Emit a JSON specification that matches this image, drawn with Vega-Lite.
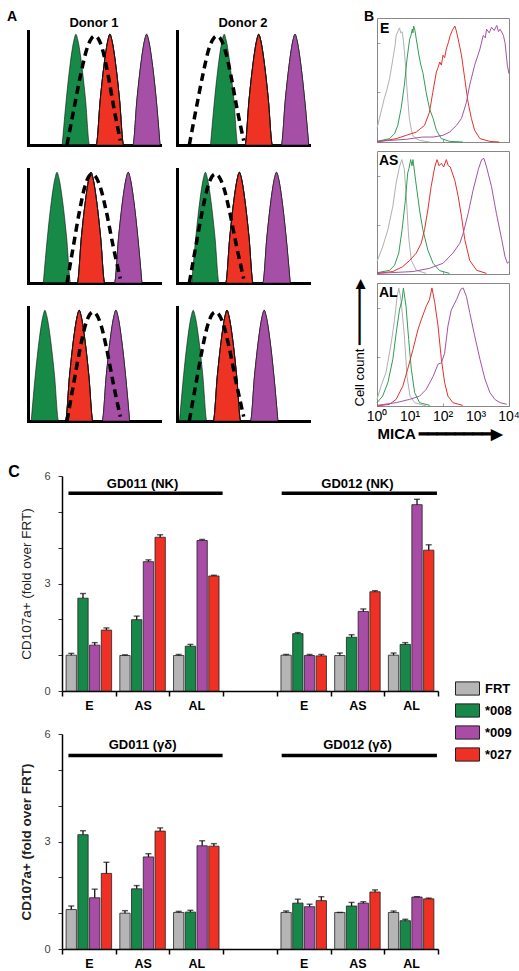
{
"$schema":"https://vega.github.io/schema/vega-lite/v6.json",
"padding":{"left":7,"top":9,"right":0,"bottom":0},
"config":{"font":"Liberation Sans","view":{"stroke":null},"axis":{"grid":false},"title":{"fontWeight":"bold","anchor":"start","frame":"group","color":"black"}},
"datasets":{
"pa":[
{"d":"Donor 1","r":1,"k":"g","x":34.2,"y":0},{"d":"Donor 1","r":1,"k":"g","x":38.3,"y":0.414},{"d":"Donor 1","r":1,"k":"g","x":42.4,"y":0.747},{"d":"Donor 1","r":1,"k":"g","x":45.8,"y":0.942},{"d":"Donor 1","r":1,"k":"g","x":47.9,"y":1},{"d":"Donor 1","r":1,"k":"g","x":50.0,"y":0.942},{"d":"Donor 1","r":1,"k":"g","x":53.4,"y":0.747},{"d":"Donor 1","r":1,"k":"g","x":57.5,"y":0.414},{"d":"Donor 1","r":1,"k":"g","x":61.6,"y":0},
{"d":"Donor 1","r":1,"k":"r","x":68.2,"y":0},{"d":"Donor 1","r":1,"k":"r","x":72.3,"y":0.414},{"d":"Donor 1","r":1,"k":"r","x":76.4,"y":0.747},{"d":"Donor 1","r":1,"k":"r","x":79.8,"y":0.942},{"d":"Donor 1","r":1,"k":"r","x":81.9,"y":1},{"d":"Donor 1","r":1,"k":"r","x":84.0,"y":0.942},{"d":"Donor 1","r":1,"k":"r","x":87.4,"y":0.747},{"d":"Donor 1","r":1,"k":"r","x":91.5,"y":0.414},{"d":"Donor 1","r":1,"k":"r","x":95.6,"y":0},
{"d":"Donor 1","r":1,"k":"p","x":104.9,"y":0},{"d":"Donor 1","r":1,"k":"p","x":109.0,"y":0.414},{"d":"Donor 1","r":1,"k":"p","x":113.1,"y":0.747},{"d":"Donor 1","r":1,"k":"p","x":116.5,"y":0.942},{"d":"Donor 1","r":1,"k":"p","x":118.6,"y":1},{"d":"Donor 1","r":1,"k":"p","x":120.7,"y":0.942},{"d":"Donor 1","r":1,"k":"p","x":124.1,"y":0.747},{"d":"Donor 1","r":1,"k":"p","x":128.2,"y":0.414},{"d":"Donor 1","r":1,"k":"p","x":132.0,"y":0},
{"d":"Donor 1","r":2,"k":"g","x":15.3,"y":0},{"d":"Donor 1","r":2,"k":"g","x":19.4,"y":0.414},{"d":"Donor 1","r":2,"k":"g","x":23.5,"y":0.747},{"d":"Donor 1","r":2,"k":"g","x":26.9,"y":0.942},{"d":"Donor 1","r":2,"k":"g","x":29.0,"y":1},{"d":"Donor 1","r":2,"k":"g","x":31.1,"y":0.942},{"d":"Donor 1","r":2,"k":"g","x":34.5,"y":0.747},{"d":"Donor 1","r":2,"k":"g","x":38.6,"y":0.414},{"d":"Donor 1","r":2,"k":"g","x":42.7,"y":0},
{"d":"Donor 1","r":2,"k":"r","x":49.3,"y":0},{"d":"Donor 1","r":2,"k":"r","x":53.4,"y":0.414},{"d":"Donor 1","r":2,"k":"r","x":57.5,"y":0.747},{"d":"Donor 1","r":2,"k":"r","x":60.9,"y":0.942},{"d":"Donor 1","r":2,"k":"r","x":63.0,"y":1},{"d":"Donor 1","r":2,"k":"r","x":65.1,"y":0.942},{"d":"Donor 1","r":2,"k":"r","x":68.5,"y":0.747},{"d":"Donor 1","r":2,"k":"r","x":72.6,"y":0.414},{"d":"Donor 1","r":2,"k":"r","x":76.7,"y":0},
{"d":"Donor 1","r":2,"k":"p","x":86.5,"y":0},{"d":"Donor 1","r":2,"k":"p","x":90.6,"y":0.414},{"d":"Donor 1","r":2,"k":"p","x":94.7,"y":0.747},{"d":"Donor 1","r":2,"k":"p","x":98.1,"y":0.942},{"d":"Donor 1","r":2,"k":"p","x":100.2,"y":1},{"d":"Donor 1","r":2,"k":"p","x":102.3,"y":0.942},{"d":"Donor 1","r":2,"k":"p","x":105.7,"y":0.747},{"d":"Donor 1","r":2,"k":"p","x":109.8,"y":0.414},{"d":"Donor 1","r":2,"k":"p","x":113.9,"y":0},
{"d":"Donor 1","r":3,"k":"g","x":3.2,"y":0},{"d":"Donor 1","r":3,"k":"g","x":7.3,"y":0.414},{"d":"Donor 1","r":3,"k":"g","x":11.4,"y":0.747},{"d":"Donor 1","r":3,"k":"g","x":14.8,"y":0.942},{"d":"Donor 1","r":3,"k":"g","x":16.9,"y":1},{"d":"Donor 1","r":3,"k":"g","x":19.0,"y":0.942},{"d":"Donor 1","r":3,"k":"g","x":22.4,"y":0.747},{"d":"Donor 1","r":3,"k":"g","x":26.5,"y":0.414},{"d":"Donor 1","r":3,"k":"g","x":30.6,"y":0},
{"d":"Donor 1","r":3,"k":"r","x":37.5,"y":0},{"d":"Donor 1","r":3,"k":"r","x":41.6,"y":0.414},{"d":"Donor 1","r":3,"k":"r","x":45.7,"y":0.747},{"d":"Donor 1","r":3,"k":"r","x":49.1,"y":0.942},{"d":"Donor 1","r":3,"k":"r","x":51.2,"y":1},{"d":"Donor 1","r":3,"k":"r","x":53.3,"y":0.942},{"d":"Donor 1","r":3,"k":"r","x":56.7,"y":0.747},{"d":"Donor 1","r":3,"k":"r","x":60.8,"y":0.414},{"d":"Donor 1","r":3,"k":"r","x":64.9,"y":0},
{"d":"Donor 1","r":3,"k":"p","x":74.2,"y":0},{"d":"Donor 1","r":3,"k":"p","x":78.3,"y":0.414},{"d":"Donor 1","r":3,"k":"p","x":82.4,"y":0.747},{"d":"Donor 1","r":3,"k":"p","x":85.8,"y":0.942},{"d":"Donor 1","r":3,"k":"p","x":87.9,"y":1},{"d":"Donor 1","r":3,"k":"p","x":90.0,"y":0.942},{"d":"Donor 1","r":3,"k":"p","x":93.4,"y":0.747},{"d":"Donor 1","r":3,"k":"p","x":97.5,"y":0.414},{"d":"Donor 1","r":3,"k":"p","x":101.6,"y":0},
{"d":"Donor 2","r":1,"k":"g","x":33.5,"y":0},{"d":"Donor 2","r":1,"k":"g","x":37.6,"y":0.414},{"d":"Donor 2","r":1,"k":"g","x":41.7,"y":0.747},{"d":"Donor 2","r":1,"k":"g","x":45.1,"y":0.942},{"d":"Donor 2","r":1,"k":"g","x":47.2,"y":1},{"d":"Donor 2","r":1,"k":"g","x":49.3,"y":0.942},{"d":"Donor 2","r":1,"k":"g","x":52.7,"y":0.747},{"d":"Donor 2","r":1,"k":"g","x":56.8,"y":0.414},{"d":"Donor 2","r":1,"k":"g","x":60.9,"y":0},
{"d":"Donor 2","r":1,"k":"r","x":68.0,"y":0},{"d":"Donor 2","r":1,"k":"r","x":72.1,"y":0.414},{"d":"Donor 2","r":1,"k":"r","x":76.2,"y":0.747},{"d":"Donor 2","r":1,"k":"r","x":79.6,"y":0.942},{"d":"Donor 2","r":1,"k":"r","x":81.7,"y":1},{"d":"Donor 2","r":1,"k":"r","x":83.8,"y":0.942},{"d":"Donor 2","r":1,"k":"r","x":87.2,"y":0.747},{"d":"Donor 2","r":1,"k":"r","x":91.3,"y":0.414},{"d":"Donor 2","r":1,"k":"r","x":95.4,"y":0},
{"d":"Donor 2","r":1,"k":"p","x":104.3,"y":0},{"d":"Donor 2","r":1,"k":"p","x":108.4,"y":0.414},{"d":"Donor 2","r":1,"k":"p","x":112.5,"y":0.747},{"d":"Donor 2","r":1,"k":"p","x":115.9,"y":0.942},{"d":"Donor 2","r":1,"k":"p","x":118.0,"y":1},{"d":"Donor 2","r":1,"k":"p","x":120.1,"y":0.942},{"d":"Donor 2","r":1,"k":"p","x":123.5,"y":0.747},{"d":"Donor 2","r":1,"k":"p","x":127.6,"y":0.414},{"d":"Donor 2","r":1,"k":"p","x":131.7,"y":0},
{"d":"Donor 2","r":2,"k":"g","x":14.7,"y":0},{"d":"Donor 2","r":2,"k":"g","x":18.8,"y":0.414},{"d":"Donor 2","r":2,"k":"g","x":22.9,"y":0.747},{"d":"Donor 2","r":2,"k":"g","x":26.3,"y":0.942},{"d":"Donor 2","r":2,"k":"g","x":28.4,"y":1},{"d":"Donor 2","r":2,"k":"g","x":30.5,"y":0.942},{"d":"Donor 2","r":2,"k":"g","x":33.9,"y":0.747},{"d":"Donor 2","r":2,"k":"g","x":38.0,"y":0.414},{"d":"Donor 2","r":2,"k":"g","x":42.1,"y":0},
{"d":"Donor 2","r":2,"k":"r","x":48.7,"y":0},{"d":"Donor 2","r":2,"k":"r","x":52.8,"y":0.414},{"d":"Donor 2","r":2,"k":"r","x":56.9,"y":0.747},{"d":"Donor 2","r":2,"k":"r","x":60.3,"y":0.942},{"d":"Donor 2","r":2,"k":"r","x":62.4,"y":1},{"d":"Donor 2","r":2,"k":"r","x":64.5,"y":0.942},{"d":"Donor 2","r":2,"k":"r","x":67.9,"y":0.747},{"d":"Donor 2","r":2,"k":"r","x":72.0,"y":0.414},{"d":"Donor 2","r":2,"k":"r","x":76.1,"y":0},
{"d":"Donor 2","r":2,"k":"p","x":85.8,"y":0},{"d":"Donor 2","r":2,"k":"p","x":89.9,"y":0.414},{"d":"Donor 2","r":2,"k":"p","x":94.0,"y":0.747},{"d":"Donor 2","r":2,"k":"p","x":97.4,"y":0.942},{"d":"Donor 2","r":2,"k":"p","x":99.5,"y":1},{"d":"Donor 2","r":2,"k":"p","x":101.6,"y":0.942},{"d":"Donor 2","r":2,"k":"p","x":105.0,"y":0.747},{"d":"Donor 2","r":2,"k":"p","x":109.1,"y":0.414},{"d":"Donor 2","r":2,"k":"p","x":113.2,"y":0},
{"d":"Donor 2","r":3,"k":"g","x":2.5,"y":0},{"d":"Donor 2","r":3,"k":"g","x":6.6,"y":0.414},{"d":"Donor 2","r":3,"k":"g","x":10.7,"y":0.747},{"d":"Donor 2","r":3,"k":"g","x":14.1,"y":0.942},{"d":"Donor 2","r":3,"k":"g","x":16.2,"y":1},{"d":"Donor 2","r":3,"k":"g","x":18.3,"y":0.942},{"d":"Donor 2","r":3,"k":"g","x":21.7,"y":0.747},{"d":"Donor 2","r":3,"k":"g","x":25.8,"y":0.414},{"d":"Donor 2","r":3,"k":"g","x":29.9,"y":0},
{"d":"Donor 2","r":3,"k":"r","x":36.3,"y":0},{"d":"Donor 2","r":3,"k":"r","x":40.4,"y":0.414},{"d":"Donor 2","r":3,"k":"r","x":44.5,"y":0.747},{"d":"Donor 2","r":3,"k":"r","x":47.9,"y":0.942},{"d":"Donor 2","r":3,"k":"r","x":50.0,"y":1},{"d":"Donor 2","r":3,"k":"r","x":52.1,"y":0.942},{"d":"Donor 2","r":3,"k":"r","x":55.5,"y":0.747},{"d":"Donor 2","r":3,"k":"r","x":59.6,"y":0.414},{"d":"Donor 2","r":3,"k":"r","x":63.7,"y":0},
{"d":"Donor 2","r":3,"k":"p","x":73.5,"y":0},{"d":"Donor 2","r":3,"k":"p","x":77.6,"y":0.414},{"d":"Donor 2","r":3,"k":"p","x":81.7,"y":0.747},{"d":"Donor 2","r":3,"k":"p","x":85.1,"y":0.942},{"d":"Donor 2","r":3,"k":"p","x":87.2,"y":1},{"d":"Donor 2","r":3,"k":"p","x":89.3,"y":0.942},{"d":"Donor 2","r":3,"k":"p","x":92.7,"y":0.747},{"d":"Donor 2","r":3,"k":"p","x":96.8,"y":0.414},{"d":"Donor 2","r":3,"k":"p","x":100.9,"y":0},
{"d":"Donor 1","r":1,"k":"dash","x":39,"y":0},{"d":"Donor 1","r":1,"k":"dash","x":46.0,"y":0.33},{"d":"Donor 1","r":1,"k":"dash","x":53.0,"y":0.65},{"d":"Donor 1","r":1,"k":"dash","x":58.6,"y":0.86},{"d":"Donor 1","r":1,"k":"dash","x":63.6,"y":0.965},{"d":"Donor 1","r":1,"k":"dash","x":67,"y":0.985},{"d":"Donor 1","r":1,"k":"dash","x":70.0,"y":0.965},{"d":"Donor 1","r":1,"k":"dash","x":74.6,"y":0.86},{"d":"Donor 1","r":1,"k":"dash","x":79.7,"y":0.65},{"d":"Donor 1","r":1,"k":"dash","x":86.0,"y":0.33},{"d":"Donor 1","r":1,"k":"dash","x":92.3,"y":0.04},
{"d":"Donor 1","r":2,"k":"dash","x":39,"y":0},{"d":"Donor 1","r":2,"k":"dash","x":45.3,"y":0.33},{"d":"Donor 1","r":2,"k":"dash","x":51.5,"y":0.65},{"d":"Donor 1","r":2,"k":"dash","x":56.5,"y":0.86},{"d":"Donor 1","r":2,"k":"dash","x":61.0,"y":0.965},{"d":"Donor 1","r":2,"k":"dash","x":64,"y":0.985},{"d":"Donor 1","r":2,"k":"dash","x":67.4,"y":0.965},{"d":"Donor 1","r":2,"k":"dash","x":72.5,"y":0.86},{"d":"Donor 1","r":2,"k":"dash","x":78.2,"y":0.65},{"d":"Donor 1","r":2,"k":"dash","x":85.2,"y":0.33},{"d":"Donor 1","r":2,"k":"dash","x":92.3,"y":0.04},
{"d":"Donor 1","r":3,"k":"dash","x":39,"y":0},{"d":"Donor 1","r":3,"k":"dash","x":45.5,"y":0.33},{"d":"Donor 1","r":3,"k":"dash","x":52.0,"y":0.65},{"d":"Donor 1","r":3,"k":"dash","x":57.2,"y":0.86},{"d":"Donor 1","r":3,"k":"dash","x":61.9,"y":0.965},{"d":"Donor 1","r":3,"k":"dash","x":65,"y":0.985},{"d":"Donor 1","r":3,"k":"dash","x":68.3,"y":0.965},{"d":"Donor 1","r":3,"k":"dash","x":73.2,"y":0.86},{"d":"Donor 1","r":3,"k":"dash","x":78.7,"y":0.65},{"d":"Donor 1","r":3,"k":"dash","x":85.5,"y":0.33},{"d":"Donor 1","r":3,"k":"dash","x":92.3,"y":0.04},
{"d":"Donor 2","r":1,"k":"dash","x":12.3,"y":0},{"d":"Donor 2","r":1,"k":"dash","x":19.2,"y":0.33},{"d":"Donor 2","r":1,"k":"dash","x":26.2,"y":0.65},{"d":"Donor 2","r":1,"k":"dash","x":31.6,"y":0.86},{"d":"Donor 2","r":1,"k":"dash","x":36.7,"y":0.965},{"d":"Donor 2","r":1,"k":"dash","x":40,"y":0.985},{"d":"Donor 2","r":1,"k":"dash","x":43.2,"y":0.965},{"d":"Donor 2","r":1,"k":"dash","x":48.0,"y":0.86},{"d":"Donor 2","r":1,"k":"dash","x":53.4,"y":0.65},{"d":"Donor 2","r":1,"k":"dash","x":60.0,"y":0.33},{"d":"Donor 2","r":1,"k":"dash","x":66.7,"y":0.04},
{"d":"Donor 2","r":2,"k":"dash","x":12.3,"y":0},{"d":"Donor 2","r":2,"k":"dash","x":18.8,"y":0.33},{"d":"Donor 2","r":2,"k":"dash","x":25.3,"y":0.65},{"d":"Donor 2","r":2,"k":"dash","x":30.5,"y":0.86},{"d":"Donor 2","r":2,"k":"dash","x":35.2,"y":0.965},{"d":"Donor 2","r":2,"k":"dash","x":38.3,"y":0.985},{"d":"Donor 2","r":2,"k":"dash","x":41.7,"y":0.965},{"d":"Donor 2","r":2,"k":"dash","x":46.8,"y":0.86},{"d":"Donor 2","r":2,"k":"dash","x":52.5,"y":0.65},{"d":"Donor 2","r":2,"k":"dash","x":59.6,"y":0.33},{"d":"Donor 2","r":2,"k":"dash","x":66.7,"y":0.04},
{"d":"Donor 2","r":3,"k":"dash","x":12.3,"y":0},{"d":"Donor 2","r":3,"k":"dash","x":18.8,"y":0.33},{"d":"Donor 2","r":3,"k":"dash","x":25.3,"y":0.65},{"d":"Donor 2","r":3,"k":"dash","x":30.5,"y":0.86},{"d":"Donor 2","r":3,"k":"dash","x":35.2,"y":0.965},{"d":"Donor 2","r":3,"k":"dash","x":38.3,"y":0.985},{"d":"Donor 2","r":3,"k":"dash","x":41.7,"y":0.965},{"d":"Donor 2","r":3,"k":"dash","x":46.8,"y":0.86},{"d":"Donor 2","r":3,"k":"dash","x":52.5,"y":0.65},{"d":"Donor 2","r":3,"k":"dash","x":59.6,"y":0.33},{"d":"Donor 2","r":3,"k":"dash","x":66.7,"y":0.04}
],
"pb":[
{"p":"E","c":"gray","x":0,"y":0.11},{"p":"E","c":"gray","x":0.12,"y":0.24},{"p":"E","c":"gray","x":0.22,"y":0.35},{"p":"E","c":"gray","x":0.3,"y":0.42},{"p":"E","c":"gray","x":0.38,"y":0.51},{"p":"E","c":"gray","x":0.45,"y":0.62},{"p":"E","c":"gray","x":0.5,"y":0.7},{"p":"E","c":"gray","x":0.55,"y":0.78},{"p":"E","c":"gray","x":0.58,"y":0.86},{"p":"E","c":"gray","x":0.63,"y":0.89},{"p":"E","c":"gray","x":0.68,"y":0.92},{"p":"E","c":"gray","x":0.72,"y":0.88},{"p":"E","c":"gray","x":0.76,"y":0.89},{"p":"E","c":"gray","x":0.8,"y":0.82},{"p":"E","c":"gray","x":0.83,"y":0.73},{"p":"E","c":"gray","x":0.87,"y":0.6},{"p":"E","c":"gray","x":0.9,"y":0.46},{"p":"E","c":"gray","x":0.94,"y":0.32},{"p":"E","c":"gray","x":0.98,"y":0.19},{"p":"E","c":"gray","x":1.04,"y":0.1},{"p":"E","c":"gray","x":1.09,"y":0.05},{"p":"E","c":"gray","x":1.2,"y":0.025},{"p":"E","c":"gray","x":1.29,"y":0.013},{"p":"E","c":"gray","x":1.6,"y":0},
{"p":"E","c":"green","x":0,"y":0.005},{"p":"E","c":"green","x":0.38,"y":0.027},{"p":"E","c":"green","x":0.53,"y":0.067},{"p":"E","c":"green","x":0.63,"y":0.134},{"p":"E","c":"green","x":0.73,"y":0.27},{"p":"E","c":"green","x":0.83,"y":0.46},{"p":"E","c":"green","x":0.91,"y":0.67},{"p":"E","c":"green","x":0.99,"y":0.83},{"p":"E","c":"green","x":1.03,"y":0.86},{"p":"E","c":"green","x":1.07,"y":0.91},{"p":"E","c":"green","x":1.09,"y":0.88},{"p":"E","c":"green","x":1.11,"y":0.935},{"p":"E","c":"green","x":1.15,"y":0.9},{"p":"E","c":"green","x":1.19,"y":0.83},{"p":"E","c":"green","x":1.27,"y":0.7},{"p":"E","c":"green","x":1.33,"y":0.62},{"p":"E","c":"green","x":1.39,"y":0.56},{"p":"E","c":"green","x":1.49,"y":0.4},{"p":"E","c":"green","x":1.59,"y":0.27},{"p":"E","c":"green","x":1.7,"y":0.19},{"p":"E","c":"green","x":1.8,"y":0.094},{"p":"E","c":"green","x":1.95,"y":0.027},{"p":"E","c":"green","x":2.2,"y":0.005},{"p":"E","c":"green","x":2.6,"y":0},
{"p":"E","c":"red","x":0,"y":0},{"p":"E","c":"red","x":0.58,"y":0.027},{"p":"E","c":"red","x":0.89,"y":0.054},{"p":"E","c":"red","x":1.19,"y":0.08},{"p":"E","c":"red","x":1.44,"y":0.134},{"p":"E","c":"red","x":1.59,"y":0.24},{"p":"E","c":"red","x":1.69,"y":0.4},{"p":"E","c":"red","x":1.8,"y":0.565},{"p":"E","c":"red","x":1.85,"y":0.6},{"p":"E","c":"red","x":1.9,"y":0.645},{"p":"E","c":"red","x":1.95,"y":0.62},{"p":"E","c":"red","x":2.0,"y":0.7},{"p":"E","c":"red","x":2.05,"y":0.68},{"p":"E","c":"red","x":2.1,"y":0.75},{"p":"E","c":"red","x":2.16,"y":0.8},{"p":"E","c":"red","x":2.22,"y":0.86},{"p":"E","c":"red","x":2.3,"y":0.91},{"p":"E","c":"red","x":2.36,"y":0.935},{"p":"E","c":"red","x":2.4,"y":0.9},{"p":"E","c":"red","x":2.46,"y":0.83},{"p":"E","c":"red","x":2.56,"y":0.7},{"p":"E","c":"red","x":2.66,"y":0.51},{"p":"E","c":"red","x":2.76,"y":0.32},{"p":"E","c":"red","x":2.86,"y":0.19},{"p":"E","c":"red","x":2.96,"y":0.094},{"p":"E","c":"red","x":3.12,"y":0.027},{"p":"E","c":"red","x":3.42,"y":0.005},{"p":"E","c":"red","x":3.7,"y":0},
{"p":"E","c":"purple","x":0,"y":0.005},{"p":"E","c":"purple","x":0.89,"y":0.022},{"p":"E","c":"purple","x":1.39,"y":0.04},{"p":"E","c":"purple","x":1.7,"y":0.04},{"p":"E","c":"purple","x":2.0,"y":0.054},{"p":"E","c":"purple","x":2.2,"y":0.08},{"p":"E","c":"purple","x":2.41,"y":0.134},{"p":"E","c":"purple","x":2.56,"y":0.19},{"p":"E","c":"purple","x":2.71,"y":0.32},{"p":"E","c":"purple","x":2.81,"y":0.46},{"p":"E","c":"purple","x":2.96,"y":0.62},{"p":"E","c":"purple","x":3.12,"y":0.75},{"p":"E","c":"purple","x":3.22,"y":0.86},{"p":"E","c":"purple","x":3.28,"y":0.84},{"p":"E","c":"purple","x":3.32,"y":0.91},{"p":"E","c":"purple","x":3.4,"y":0.88},{"p":"E","c":"purple","x":3.47,"y":0.925},{"p":"E","c":"purple","x":3.55,"y":0.9},{"p":"E","c":"purple","x":3.63,"y":0.94},{"p":"E","c":"purple","x":3.68,"y":0.89},{"p":"E","c":"purple","x":3.73,"y":0.91},{"p":"E","c":"purple","x":3.83,"y":0.86},{"p":"E","c":"purple","x":3.88,"y":0.8},{"p":"E","c":"purple","x":3.95,"y":0.62},{"p":"E","c":"purple","x":4.0,"y":0.55},
{"p":"AS","c":"gray","x":0,"y":0.1},{"p":"AS","c":"gray","x":0.17,"y":0.22},{"p":"AS","c":"gray","x":0.33,"y":0.36},{"p":"AS","c":"gray","x":0.48,"y":0.55},{"p":"AS","c":"gray","x":0.58,"y":0.74},{"p":"AS","c":"gray","x":0.68,"y":0.87},{"p":"AS","c":"gray","x":0.75,"y":0.93},{"p":"AS","c":"gray","x":0.83,"y":0.85},{"p":"AS","c":"gray","x":0.9,"y":0.57},{"p":"AS","c":"gray","x":0.96,"y":0.3},{"p":"AS","c":"gray","x":1.04,"y":0.11},{"p":"AS","c":"gray","x":1.19,"y":0.03},{"p":"AS","c":"gray","x":1.49,"y":0.005},
{"p":"AS","c":"green","x":0,"y":0.01},{"p":"AS","c":"green","x":0.38,"y":0.03},{"p":"AS","c":"green","x":0.53,"y":0.07},{"p":"AS","c":"green","x":0.66,"y":0.17},{"p":"AS","c":"green","x":0.76,"y":0.36},{"p":"AS","c":"green","x":0.86,"y":0.6},{"p":"AS","c":"green","x":0.93,"y":0.82},{"p":"AS","c":"green","x":0.97,"y":0.86},{"p":"AS","c":"green","x":1.02,"y":0.93},{"p":"AS","c":"green","x":1.06,"y":0.88},{"p":"AS","c":"green","x":1.09,"y":0.93},{"p":"AS","c":"green","x":1.17,"y":0.76},{"p":"AS","c":"green","x":1.29,"y":0.52},{"p":"AS","c":"green","x":1.39,"y":0.36},{"p":"AS","c":"green","x":1.54,"y":0.195},{"p":"AS","c":"green","x":1.7,"y":0.087},{"p":"AS","c":"green","x":1.9,"y":0.027},{"p":"AS","c":"green","x":2.2,"y":0.005},
{"p":"AS","c":"red","x":0,"y":0.005},{"p":"AS","c":"red","x":0.48,"y":0.02},{"p":"AS","c":"red","x":0.78,"y":0.06},{"p":"AS","c":"red","x":0.99,"y":0.11},{"p":"AS","c":"red","x":1.19,"y":0.17},{"p":"AS","c":"red","x":1.34,"y":0.25},{"p":"AS","c":"red","x":1.44,"y":0.36},{"p":"AS","c":"red","x":1.54,"y":0.52},{"p":"AS","c":"red","x":1.64,"y":0.71},{"p":"AS","c":"red","x":1.75,"y":0.87},{"p":"AS","c":"red","x":1.82,"y":0.93},{"p":"AS","c":"red","x":1.88,"y":0.88},{"p":"AS","c":"red","x":1.95,"y":0.9},{"p":"AS","c":"red","x":2.02,"y":0.87},{"p":"AS","c":"red","x":2.1,"y":0.93},{"p":"AS","c":"red","x":2.16,"y":0.88},{"p":"AS","c":"red","x":2.22,"y":0.87},{"p":"AS","c":"red","x":2.36,"y":0.76},{"p":"AS","c":"red","x":2.46,"y":0.63},{"p":"AS","c":"red","x":2.56,"y":0.47},{"p":"AS","c":"red","x":2.66,"y":0.28},{"p":"AS","c":"red","x":2.81,"y":0.11},{"p":"AS","c":"red","x":3.02,"y":0.03},{"p":"AS","c":"red","x":3.32,"y":0.005},
{"p":"AS","c":"purple","x":0,"y":0.005},{"p":"AS","c":"purple","x":1.09,"y":0.02},{"p":"AS","c":"purple","x":1.59,"y":0.046},{"p":"AS","c":"purple","x":2.0,"y":0.087},{"p":"AS","c":"purple","x":2.3,"y":0.17},{"p":"AS","c":"purple","x":2.51,"y":0.25},{"p":"AS","c":"purple","x":2.61,"y":0.33},{"p":"AS","c":"purple","x":2.76,"y":0.49},{"p":"AS","c":"purple","x":2.91,"y":0.68},{"p":"AS","c":"purple","x":3.07,"y":0.85},{"p":"AS","c":"purple","x":3.17,"y":0.93},{"p":"AS","c":"purple","x":3.24,"y":0.94},{"p":"AS","c":"purple","x":3.32,"y":0.87},{"p":"AS","c":"purple","x":3.47,"y":0.71},{"p":"AS","c":"purple","x":3.62,"y":0.49},{"p":"AS","c":"purple","x":3.78,"y":0.28},{"p":"AS","c":"purple","x":3.88,"y":0.14},{"p":"AS","c":"purple","x":3.95,"y":0.087},{"p":"AS","c":"purple","x":4.0,"y":0.1},
{"p":"AL","c":"gray","x":0,"y":0.054},{"p":"AL","c":"gray","x":0.12,"y":0.16},{"p":"AL","c":"gray","x":0.27,"y":0.27},{"p":"AL","c":"gray","x":0.43,"y":0.51},{"p":"AL","c":"gray","x":0.53,"y":0.7},{"p":"AL","c":"gray","x":0.61,"y":0.89},{"p":"AL","c":"gray","x":0.66,"y":0.96},{"p":"AL","c":"gray","x":0.73,"y":0.86},{"p":"AL","c":"gray","x":0.83,"y":0.57},{"p":"AL","c":"gray","x":0.91,"y":0.24},{"p":"AL","c":"gray","x":1.0,"y":0.08},{"p":"AL","c":"gray","x":1.14,"y":0.027},{"p":"AL","c":"gray","x":1.49,"y":0},
{"p":"AL","c":"green","x":0,"y":0.027},{"p":"AL","c":"green","x":0.17,"y":0.08},{"p":"AL","c":"green","x":0.33,"y":0.19},{"p":"AL","c":"green","x":0.48,"y":0.38},{"p":"AL","c":"green","x":0.58,"y":0.59},{"p":"AL","c":"green","x":0.68,"y":0.78},{"p":"AL","c":"green","x":0.76,"y":0.865},{"p":"AL","c":"green","x":0.8,"y":0.96},{"p":"AL","c":"green","x":0.88,"y":0.81},{"p":"AL","c":"green","x":0.96,"y":0.54},{"p":"AL","c":"green","x":1.04,"y":0.3},{"p":"AL","c":"green","x":1.14,"y":0.11},{"p":"AL","c":"green","x":1.29,"y":0.027},{"p":"AL","c":"green","x":1.6,"y":0.005},
{"p":"AL","c":"red","x":0,"y":0},{"p":"AL","c":"red","x":0.38,"y":0.014},{"p":"AL","c":"red","x":0.58,"y":0.054},{"p":"AL","c":"red","x":0.78,"y":0.16},{"p":"AL","c":"red","x":0.93,"y":0.3},{"p":"AL","c":"red","x":1.09,"y":0.46},{"p":"AL","c":"red","x":1.24,"y":0.62},{"p":"AL","c":"red","x":1.34,"y":0.7},{"p":"AL","c":"red","x":1.49,"y":0.81},{"p":"AL","c":"red","x":1.59,"y":0.865},{"p":"AL","c":"red","x":1.665,"y":0.96},{"p":"AL","c":"red","x":1.75,"y":0.84},{"p":"AL","c":"red","x":1.85,"y":0.65},{"p":"AL","c":"red","x":1.95,"y":0.38},{"p":"AL","c":"red","x":2.05,"y":0.19},{"p":"AL","c":"red","x":2.15,"y":0.08},{"p":"AL","c":"red","x":2.3,"y":0.027},{"p":"AL","c":"red","x":2.6,"y":0.005},
{"p":"AL","c":"purple","x":0,"y":0.005},{"p":"AL","c":"purple","x":0.58,"y":0.027},{"p":"AL","c":"purple","x":0.99,"y":0.054},{"p":"AL","c":"purple","x":1.29,"y":0.08},{"p":"AL","c":"purple","x":1.49,"y":0.135},{"p":"AL","c":"purple","x":1.7,"y":0.24},{"p":"AL","c":"purple","x":1.85,"y":0.34},{"p":"AL","c":"purple","x":1.95,"y":0.35},{"p":"AL","c":"purple","x":2.05,"y":0.43},{"p":"AL","c":"purple","x":2.15,"y":0.65},{"p":"AL","c":"purple","x":2.25,"y":0.78},{"p":"AL","c":"purple","x":2.41,"y":0.865},{"p":"AL","c":"purple","x":2.54,"y":0.95},{"p":"AL","c":"purple","x":2.61,"y":0.96},{"p":"AL","c":"purple","x":2.71,"y":0.89},{"p":"AL","c":"purple","x":2.81,"y":0.76},{"p":"AL","c":"purple","x":2.96,"y":0.57},{"p":"AL","c":"purple","x":3.12,"y":0.38},{"p":"AL","c":"purple","x":3.27,"y":0.22},{"p":"AL","c":"purple","x":3.42,"y":0.11},{"p":"AL","c":"purple","x":3.57,"y":0.054},{"p":"AL","c":"purple","x":3.73,"y":0.027},{"p":"AL","c":"purple","x":3.93,"y":0.014}
],
"nk":[
{"b":"GD011 E","s":"FRT","v":1.0,"e":1.05},{"b":"GD011 E","s":"*008","v":2.59,"e":2.72},{"b":"GD011 E","s":"*009","v":1.28,"e":1.35},{"b":"GD011 E","s":"*027","v":1.7,"e":1.76},
{"b":"GD011 AS","s":"FRT","v":0.99,"e":1.01},{"b":"GD011 AS","s":"*008","v":1.99,"e":2.09},{"b":"GD011 AS","s":"*009","v":3.61,"e":3.66},{"b":"GD011 AS","s":"*027","v":4.29,"e":4.36},
{"b":"GD011 AL","s":"FRT","v":0.99,"e":1.02},{"b":"GD011 AL","s":"*008","v":1.25,"e":1.3},{"b":"GD011 AL","s":"*009","v":4.2,"e":4.23},{"b":"GD011 AL","s":"*027","v":3.21,"e":3.23},
{"b":"GD012 E","s":"FRT","v":1.0,"e":1.02},{"b":"GD012 E","s":"*008","v":1.6,"e":1.63},{"b":"GD012 E","s":"*009","v":0.99,"e":1.02},{"b":"GD012 E","s":"*027","v":0.98,"e":1.02},
{"b":"GD012 AS","s":"FRT","v":0.99,"e":1.06},{"b":"GD012 AS","s":"*008","v":1.5,"e":1.57},{"b":"GD012 AS","s":"*009","v":2.22,"e":2.29},{"b":"GD012 AS","s":"*027","v":2.77,"e":2.8},
{"b":"GD012 AL","s":"FRT","v":1.0,"e":1.06},{"b":"GD012 AL","s":"*008","v":1.3,"e":1.35},{"b":"GD012 AL","s":"*009","v":5.2,"e":5.35},{"b":"GD012 AL","s":"*027","v":3.93,"e":4.08}
],
"gd":[
{"b":"GD011 E","s":"FRT","v":1.1,"e":1.2},{"b":"GD011 E","s":"*008","v":3.19,"e":3.3},{"b":"GD011 E","s":"*009","v":1.43,"e":1.67},{"b":"GD011 E","s":"*027","v":2.11,"e":2.42},
{"b":"GD011 AS","s":"FRT","v":1.0,"e":1.07},{"b":"GD011 AS","s":"*008","v":1.68,"e":1.77},{"b":"GD011 AS","s":"*009","v":2.57,"e":2.66},{"b":"GD011 AS","s":"*027","v":3.29,"e":3.38},
{"b":"GD011 AL","s":"FRT","v":1.02,"e":1.05},{"b":"GD011 AL","s":"*008","v":1.03,"e":1.08},{"b":"GD011 AL","s":"*009","v":2.88,"e":3.02},{"b":"GD011 AL","s":"*027","v":2.87,"e":2.94},
{"b":"GD012 E","s":"FRT","v":1.02,"e":1.06},{"b":"GD012 E","s":"*008","v":1.28,"e":1.39},{"b":"GD012 E","s":"*009","v":1.18,"e":1.25},{"b":"GD012 E","s":"*027","v":1.35,"e":1.46},
{"b":"GD012 AS","s":"FRT","v":1.02,"e":1.02},{"b":"GD012 AS","s":"*008","v":1.2,"e":1.3},{"b":"GD012 AS","s":"*009","v":1.28,"e":1.32},{"b":"GD012 AS","s":"*027","v":1.59,"e":1.65},
{"b":"GD012 AL","s":"FRT","v":1.02,"e":1.06},{"b":"GD012 AL","s":"*008","v":0.79,"e":0.83},{"b":"GD012 AL","s":"*009","v":1.45,"e":1.46},{"b":"GD012 AL","s":"*027","v":1.4,"e":1.42}
],
"ann":[
{"c":"NK","t":"GD011 (NK)","x0":0.12,"x1":2.99,"xm":1.5,"yl":5.52,"yt":5.79},
{"c":"NK","t":"GD012 (NK)","x0":4.09,"x1":6.98,"xm":5.5,"yl":5.52,"yt":5.79},
{"c":"gd","t":"GD011 (γδ)","x0":0.12,"x1":2.99,"xm":1.5,"yl":5.4,"yt":5.68},
{"c":"gd","t":"GD012 (γδ)","x0":4.09,"x1":6.98,"xm":5.5,"yl":5.4,"yt":5.68}
],
"ticklab":[{"v":0,"l":"10⁰"},{"v":1,"l":"10¹"},{"v":2,"l":"10²"},{"v":3,"l":"10³"},{"v":4,"l":"10⁴"}]
},
"resolve":{"scale":{"color":"independent"},"legend":{"color":"independent"}},
"columns":1,
"align":"none",
"spacing":22,
"concat":[
{
"columns":2,
"align":"none",
"spacing":43,
"resolve":{"scale":{"color":"independent"},"legend":{"color":"independent"}},
"concat":[
{
"data":{"name":"pa"},
"title":{"text":"A","fontSize":14,"dx":-21,"offset":-7},
"facet":{
"column":{"field":"d","type":"nominal","header":{"title":null,"labelFontSize":13,"labelFontWeight":"bold","labelColor":"black","labelPadding":-12}},
"row":{"field":"r","type":"ordinal","header":null}
},
"spacing":{"row":11,"column":17},
"bounds":"flush",
"resolve":{"axis":{"x":"independent","y":"independent"}},
"spec":{
"width":132,"height":127,
"encoding":{
"x":{"field":"x","type":"quantitative","scale":{"domain":[0,132],"nice":false},"axis":{"domain":true,"domainWidth":3,"domainColor":"black","domainCap":"square","ticks":false,"labels":false,"title":null}},
"y":{"field":"y","type":"quantitative","scale":{"domain":[0,1.03],"nice":false,"range":[127,13]},"axis":{"domain":true,"domainWidth":3,"domainColor":"black","domainCap":"square","ticks":false,"labels":false,"title":null}}
},
"layer":[
{"transform":[{"filter":"datum.k != 'dash'"}],"mark":{"type":"area","interpolate":"monotone","stroke":"#111","strokeWidth":0.6},
"encoding":{"color":{"field":"k","type":"nominal","scale":{"domain":["g","r","p"],"range":["#178a48","#ee3224","#a64fa6"]},"legend":null}}},
{"transform":[{"filter":"datum.k == 'dash'"}],"mark":{"type":"line","interpolate":"monotone","color":"black","strokeWidth":3.5,"strokeDash":[8,5]}}
]
}
},
{
"spacing":9,
"bounds":"flush",
"vconcat":[
{
"width":132,"height":124,"view":{"stroke":"#888"},
"layer":[
{"data":{"name":"pb"},"transform":[{"filter":"datum.p == 'E'"}],"mark":{"type":"line","strokeWidth":1},
"encoding":{
"x":{"field":"x","type":"quantitative","scale":{"domain":[0,4],"nice":false},"axis":{"values":[0,1,2,3,4],"labels":false,"title":null,"domain":false,"tickSize":-3,"tickColor":"#777","tickWidth":0.7}},
"y":{"field":"y","type":"quantitative","scale":{"domain":[0,1],"nice":false},"axis":{"values":[0,0.2,0.4,0.6,0.8,1],"labels":false,"title":null,"domain":false,"tickSize":-3,"tickColor":"#777","tickWidth":0.7}},
"color":{"field":"c","type":"nominal","scale":{"domain":["gray","green","red","purple"],"range":["#b0b0b0","#2f9e55","#e3312d","#a553a8"]},"legend":null}}},
{"data":{"values":[{"lab":"E"}]},"mark":{"type":"text","fontSize":14,"fontWeight":"bold","align":"left","baseline":"top","dx":3,"dy":4},
"encoding":{"x":{"datum":0,"type":"quantitative"},"y":{"datum":1,"type":"quantitative"},"text":{"field":"lab"}}},
{"data":{"values":[{"lab":"B"}]},"mark":{"type":"text","fontSize":14,"fontWeight":"bold","align":"center","baseline":"middle"},
"encoding":{"x":{"datum":-0.24,"type":"quantitative"},"y":{"datum":1.008,"type":"quantitative"},"text":{"field":"lab"}}}
]
},
{
"width":132,"height":123,"view":{"stroke":"#888"},
"layer":[
{"data":{"name":"pb"},"transform":[{"filter":"datum.p == 'AS'"}],"mark":{"type":"line","strokeWidth":1},
"encoding":{
"x":{"field":"x","type":"quantitative","scale":{"domain":[0,4],"nice":false},"axis":{"values":[0,1,2,3,4],"labels":false,"title":null,"domain":false,"tickSize":-3,"tickColor":"#777","tickWidth":0.7}},
"y":{"field":"y","type":"quantitative","scale":{"domain":[0,1],"nice":false},"axis":{"values":[0,0.2,0.4,0.6,0.8,1],"labels":false,"title":null,"domain":false,"tickSize":-3,"tickColor":"#777","tickWidth":0.7}},
"color":{"field":"c","type":"nominal","scale":{"domain":["gray","green","red","purple"],"range":["#b0b0b0","#2f9e55","#e3312d","#a553a8"]},"legend":null}}},
{"data":{"values":[{"lab":"AS"}]},"mark":{"type":"text","fontSize":14,"fontWeight":"bold","align":"left","baseline":"top","dx":2,"dy":3},
"encoding":{"x":{"datum":0,"type":"quantitative"},"y":{"datum":1,"type":"quantitative"},"text":{"field":"lab"}}}
]
},
{
"width":132,"height":123,"view":{"stroke":"#888"},
"layer":[
{"data":{"name":"pb"},"transform":[{"filter":"datum.p == 'AL'"}],"mark":{"type":"line","strokeWidth":1},
"encoding":{
"x":{"field":"x","type":"quantitative","scale":{"domain":[0,4],"nice":false},"axis":{"values":[0,1,2,3,4],"labels":false,"title":"MICA ━━━━━━━━▶","titleFontSize":15,"titleFontWeight":"bold","titleColor":"black","titleAnchor":"start","titlePadding":20,"domain":false,"tickSize":-3,"tickColor":"#777","tickWidth":0.7}},
"y":{"field":"y","type":"quantitative","scale":{"domain":[0,1],"nice":false},"axis":{"values":[0,0.2,0.4,0.6,0.8,1],"labels":false,"title":"Cell count ━━━━━━━▶","titleFontSize":13,"titleFontWeight":"normal","titleColor":"black","titleAnchor":"start","titlePadding":10,"domain":false,"tickSize":-3,"tickColor":"#777","tickWidth":0.7}},
"color":{"field":"c","type":"nominal","scale":{"domain":["gray","green","red","purple"],"range":["#b0b0b0","#2f9e55","#e3312d","#a553a8"]},"legend":null}}},
{"data":{"values":[{"lab":"AL"}]},"mark":{"type":"text","fontSize":14,"fontWeight":"bold","align":"left","baseline":"top","dx":2,"dy":3},
"encoding":{"x":{"datum":0,"type":"quantitative"},"y":{"datum":1,"type":"quantitative"},"text":{"field":"lab"}}},
{"data":{"name":"ticklab"},"mark":{"type":"text","fontSize":14,"align":"center","baseline":"top","dy":4,"color":"black"},
"encoding":{"x":{"field":"v","type":"quantitative"},"y":{"datum":0,"type":"quantitative"},"text":{"field":"l"}}}
]
}
]
}
]
},
{
"spacing":43,
"bounds":"flush",
"resolve":{"legend":{"color":"independent"}},
"vconcat":[
{
"width":410,"height":215,
"resolve":{"scale":{"x":"independent","y":"independent"}},
"layer":[
{
"data":{"name":"nk"},
"encoding":{
"x":{"field":"b","type":"nominal","sort":null,"scale":{"domain":["GD011 E","GD011 AS","GD011 AL","gap","GD012 E","GD012 AS","GD012 AL"],"paddingInner":0,"paddingOuter":0,"range":[34,410]},"axis":{"title":null,"labelExpr":"datum.value == 'gap' ? '' : split(datum.value, ' ')[1]","labelFontSize":12.5,"labelFontWeight":"bold","labelColor":"black","labelAngle":0,"labelPadding":3,"tickBand":"extent","tickSize":5,"tickWidth":1.5,"tickColor":"black","domainColor":"black","domainWidth":1.5}},
"xOffset":{"field":"s","type":"nominal","sort":null,"scale":{"domain":["FRT","*008","*009","*027"],"paddingInner":0.12,"paddingOuter":0.35}},
"y":{"field":"v","type":"quantitative","scale":{"domain":[0,6],"nice":false},"axis":{"offset":-34,"values":[0,1,2,3,4,5,6],"labelExpr":"datum.value % 3 === 0 ? datum.label : ''","tickSize":4,"tickColor":"#333","domainColor":"black","domainWidth":1.5,"labelFontSize":11,"labelColor":"#444","labelPadding":8,"title":"CD107a+ (fold over FRT)","titleFontSize":13.5,"titleFontWeight":"normal","titleColor":"#222","titlePadding":10}}
},
"layer":[
{"mark":{"type":"bar","stroke":"#222","strokeWidth":0.8},
"encoding":{"color":{"field":"s","type":"nominal","sort":null,"scale":{"domain":["FRT","*008","*009","*027"],"range":["#b5b5b5","#17884a","#a84ca6","#ee3124"]},"legend":{"orient":"none","legendX":427,"legendY":200,"title":null,"symbolType":"M-1,-0.55L1,-0.55L1,0.55L-1,0.55Z","symbolSize":576,"symbolStrokeColor":"#222","symbolStrokeWidth":1,"labelFontSize":13,"labelFontWeight":"bold","labelColor":"black","labelOffset":5,"rowPadding":0}}}},
{"mark":{"type":"rule","color":"#111","strokeWidth":1.3},"encoding":{"y2":{"field":"e"}}},
{"mark":{"type":"tick","color":"#111","thickness":1.4,"size":6,"orient":"horizontal"},"encoding":{"y":{"field":"e","type":"quantitative"}}}
]
},
{
"data":{"name":"ann"},
"transform":[{"filter":"datum.c == 'NK'"}],
"layer":[
{"mark":{"type":"rule","strokeWidth":3.5,"color":"black"},"encoding":{"x":{"field":"x0","type":"quantitative","scale":{"domain":[0,7],"nice":false,"range":[34,410]},"axis":null},"x2":{"field":"x1"},"y":{"field":"yl","type":"quantitative","scale":{"domain":[0,6],"nice":false},"axis":null}}},
{"mark":{"type":"text","fontWeight":"bold","fontSize":13},"encoding":{"x":{"field":"xm","type":"quantitative"},"y":{"field":"yt","type":"quantitative"},"text":{"field":"t"}}},
{"data":{"values":[{"lab":"C"}]},"mark":{"type":"text","fontWeight":"bold","fontSize":16,"align":"center","baseline":"middle"},"encoding":{"x":{"datum":-0.894,"type":"quantitative"},"y":{"datum":6.1,"type":"quantitative"},"text":{"field":"lab"}}}
]
}
]
},
{
"width":410,"height":215,
"resolve":{"scale":{"x":"independent","y":"independent"}},
"layer":[
{
"data":{"name":"gd"},
"encoding":{
"x":{"field":"b","type":"nominal","sort":null,"scale":{"domain":["GD011 E","GD011 AS","GD011 AL","gap","GD012 E","GD012 AS","GD012 AL"],"paddingInner":0,"paddingOuter":0,"range":[34,410]},"axis":{"title":null,"labelExpr":"datum.value == 'gap' ? '' : split(datum.value, ' ')[1]","labelFontSize":12.5,"labelFontWeight":"bold","labelColor":"black","labelAngle":0,"labelPadding":3,"tickBand":"extent","tickSize":5,"tickWidth":1.5,"tickColor":"black","domainColor":"black","domainWidth":1.5}},
"xOffset":{"field":"s","type":"nominal","sort":null,"scale":{"domain":["FRT","*008","*009","*027"],"paddingInner":0.12,"paddingOuter":0.35}},
"y":{"field":"v","type":"quantitative","scale":{"domain":[0,6],"nice":false},"axis":{"offset":-34,"values":[0,1,2,3,4,5,6],"labelExpr":"datum.value % 3 === 0 ? datum.label : ''","tickSize":4,"tickColor":"#333","domainColor":"black","domainWidth":1.5,"labelFontSize":11,"labelColor":"#444","labelPadding":8,"title":"CD107a+ (fold over FRT)","titleFontSize":13.5,"titleFontWeight":"bold","titleColor":"#222","titlePadding":10}}
},
"layer":[
{"mark":{"type":"bar","stroke":"#222","strokeWidth":0.8},
"encoding":{"color":{"field":"s","type":"nominal","sort":null,"scale":{"domain":["FRT","*008","*009","*027"],"range":["#b5b5b5","#17884a","#a84ca6","#ee3124"]},"legend":null}}},
{"mark":{"type":"rule","color":"#111","strokeWidth":1.3},"encoding":{"y2":{"field":"e"}}},
{"mark":{"type":"tick","color":"#111","thickness":1.4,"size":6,"orient":"horizontal"},"encoding":{"y":{"field":"e","type":"quantitative"}}}
]
},
{
"data":{"name":"ann"},
"transform":[{"filter":"datum.c == 'gd'"}],
"layer":[
{"mark":{"type":"rule","strokeWidth":3.5,"color":"black"},"encoding":{"x":{"field":"x0","type":"quantitative","scale":{"domain":[0,7],"nice":false,"range":[34,410]},"axis":null},"x2":{"field":"x1"},"y":{"field":"yl","type":"quantitative","scale":{"domain":[0,6],"nice":false},"axis":null}}},
{"mark":{"type":"text","fontWeight":"bold","fontSize":13},"encoding":{"x":{"field":"xm","type":"quantitative"},"y":{"field":"yt","type":"quantitative"},"text":{"field":"t"}}}
]
}
]
}
]
}
]
}
